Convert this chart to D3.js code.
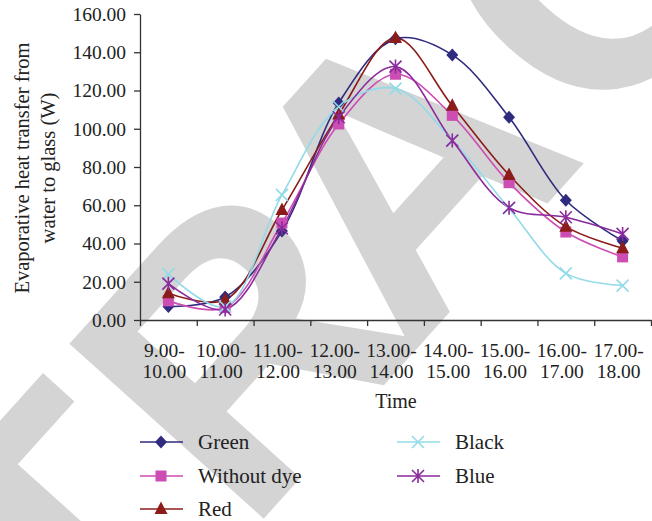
<!DOCTYPE html>
<html>
<head>
<meta charset="utf-8">
<script src="https://cdn.jsdelivr.net/npm/d3@7"></script>
<style>
  html, body { margin: 0; padding: 0; background: #fff; }
  svg { display: block; }
</style>
</head>
<body>
<svg id="chart" width="652" height="521"></svg>
<script>
const categories = ["9.00-10.00", "10.00-11.00", "11.00-12.00", "12.00-13.00", "13.00-14.00",
                    "14.00-15.00", "15.00-16.00", "16.00-17.00", "17.00-18.00"];
const green      = [7, 12, 46.5, 113.5, 147, 138.6, 106, 62.6, 41.3];
const withoutDye = [10, 6.5, 50.7, 102.5, 128.5, 107, 71.8, 46, 33];
const red        = [14, 10.5, 57.5, 107.5, 147.5, 112, 75.8, 48.8, 37.5];
const black      = [24, 7, 65.4, 111.5, 121, 94, 58.4, 24.4, 18];
const blue       = [19, 5.5, 48, 106, 132.5, 93.8, 58.7, 53.7, 45];
const yTicks = [0, 20, 40, 60, 80, 100, 120, 140, 160];
const seriesNames = ["Green", "Without dye", "Red", "Black", "Blue"];

const series = [
  {name: seriesNames[0], values: green,      color: "#2f2b7e", marker: "diamond"},
  {name: seriesNames[1], values: withoutDye, color: "#cc4db3", marker: "square"},
  {name: seriesNames[2], values: red,        color: "#8b1c1a", marker: "triangle"},
  {name: seriesNames[3], values: black,      color: "#92dbe8", marker: "cross"},
  {name: seriesNames[4], values: blue,       color: "#8a2a9c", marker: "asterisk"}
];

const svg = d3.select("#chart");
const FONT = "'Liberation Serif', 'Times New Roman', serif";

// watermark
svg.append("text")
  .attr("transform", "translate(502,254) rotate(-48)")
  .attr("x", -1216.6 + 45)
  .attr("dx", "0 0 0 0 -45")
  .attr("text-anchor", "start")
  .attr("font-family", "'Liberation Sans', Arial, sans-serif")
  .attr("font-weight", "bold")
  .attr("font-size", 380)
  .attr("letter-spacing", 10)
  .attr("fill", "#d4d4d4")
  .text("RETRACTED");

const pLeft = 140, pRight = 651, pTop = 14, pBottom = 320;
const x = d3.scaleBand().domain(categories).range([pLeft, pRight]).padding(0);
const xi = d3.scaleLinear().domain([0, categories.length]).range([pLeft, pRight]);
const y = d3.scaleLinear().domain([0, 160]).range([pBottom, pTop]);
const cx = c => x(c) + x.bandwidth() / 2;

// Y axis
const yAxis = svg.append("g")
  .attr("transform", `translate(${pLeft},0)`)
  .call(d3.axisLeft(y).tickValues(yTicks).tickFormat(d => d.toFixed(2)).tickSize(6).tickSizeOuter(0).tickPadding(8));
yAxis.selectAll("text").attr("font-family", FONT).attr("font-size", 19.5).attr("fill", "#222");
yAxis.selectAll("line, path").attr("stroke", "#333").attr("stroke-width", 1.3);

// X axis (ticks at category boundaries)
const xAxis = svg.append("g")
  .attr("transform", `translate(0,${pBottom})`)
  .call(d3.axisBottom(xi).tickValues(d3.range(categories.length + 1)).tickFormat("").tickSize(6).tickSizeOuter(0));
xAxis.selectAll("line, path").attr("stroke", "#333").attr("stroke-width", 1.3);

const labels = svg.append("g").selectAll("text").data(categories).join("text")
  .attr("font-family", FONT).attr("font-size", 19.5).attr("fill", "#222")
  .attr("text-anchor", "middle");
labels.each(function(d) {
  const idx = d.indexOf("-");
  const t = d3.select(this);
  const px = cx(d) - 4;
  t.append("tspan").attr("x", px).attr("y", 357).text(d.slice(0, idx + 1));
  t.append("tspan").attr("x", px).attr("y", 378).text(d.slice(idx + 1));
});

svg.append("text")
  .attr("x", 396).attr("y", 408)
  .attr("text-anchor", "middle")
  .attr("font-family", FONT).attr("font-size", 20).attr("fill", "#222")
  .text("Time");

svg.append("text")
  .attr("transform", "translate(0,168) rotate(-90)")
  .attr("text-anchor", "middle")
  .attr("font-family", FONT).attr("font-size", 20.5).attr("fill", "#222")
  .call(t => {
    t.append("tspan").attr("x", 0).attr("y", 29).text("Evaporative heat transfer from");
    t.append("tspan").attr("x", 0).attr("y", 55).text("water to glass (W)");
  });

// markers
function drawMarker(g, type, color, px, py) {
  if (type === "diamond") {
    g.append("path").attr("d", `M${px},${py-6.5}L${px+6},${py}L${px},${py+6.5}L${px-6},${py}Z`).attr("fill", color);
  } else if (type === "square") {
    g.append("rect").attr("x", px-5.5).attr("y", py-5.5).attr("width", 11).attr("height", 11).attr("fill", color);
  } else if (type === "triangle") {
    g.append("path").attr("d", `M${px},${py-7.5}L${px+6.5},${py+5}L${px-6.5},${py+5}Z`).attr("fill", color);
  } else if (type === "cross") {
    g.append("path").attr("d", `M${px-6},${py-6}L${px+6},${py+6}M${px+6},${py-6}L${px-6},${py+6}`)
      .attr("stroke", color).attr("stroke-width", 1.6).attr("fill", "none");
  } else if (type === "asterisk") {
    g.append("path").attr("d", `M${px-6},${py-6}L${px+6},${py+6}M${px+6},${py-6}L${px-6},${py+6}M${px},${py-7}L${px},${py+7}`)
      .attr("stroke", color).attr("stroke-width", 1.6).attr("fill", "none");
  }
}

const line = d3.line().curve(d3.curveCatmullRom.alpha(0.5));
const plot = svg.append("g");
series.forEach(s => {
  const pts = s.values.map((v, i) => [cx(categories[i]), y(v)]);
  plot.append("path").attr("d", line(pts)).attr("fill", "none")
    .attr("stroke", s.color).attr("stroke-width", 1.6);
});
series.forEach(s => {
  const g = plot.append("g");
  s.values.forEach((v, i) => drawMarker(g, s.marker, s.color, cx(categories[i]), y(v)));
});

// legend
const legendPos = [[140, 442], [140, 476], [140, 509], [397, 442], [397, 476]];
series.forEach((s, i) => {
  const [lx, ly] = legendPos[i];
  const g = svg.append("g");
  g.append("line").attr("x1", lx).attr("x2", lx + 43).attr("y1", ly).attr("y2", ly)
    .attr("stroke", s.color).attr("stroke-width", 1.6);
  drawMarker(g, s.marker, s.color, lx + 21, ly);
  g.append("text").attr("x", lx + 58).attr("y", ly + 7)
    .attr("font-family", FONT).attr("font-size", 21).attr("fill", "#222")
    .text(s.name);
});
</script>
</body>
</html>
